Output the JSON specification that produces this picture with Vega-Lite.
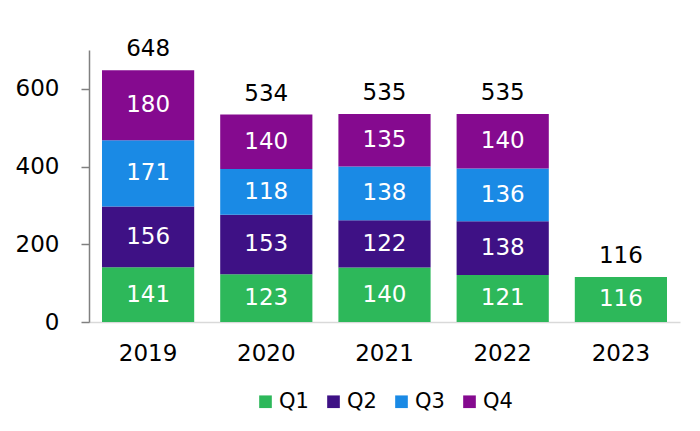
{
  "$schema": "https://vega.github.io/schema/vega-lite/v6.json",
  "width": 591,
  "height": 272,
  "autosize": "none",
  "padding": {"left": 89, "top": 50, "right": 20, "bottom": 109},
  "background": "white",
  "config": {
    "view": {"stroke": null},
    "font": "DejaVu Sans",
    "axis": {"labelFont": "DejaVu Sans", "labelColor": "black", "grid": false, "title": null}
  },
  "data": {
    "values": [
      {"year": "2019", "quarter": "Q1", "value": 141},
      {"year": "2019", "quarter": "Q2", "value": 156},
      {"year": "2019", "quarter": "Q3", "value": 171},
      {"year": "2019", "quarter": "Q4", "value": 180},
      {"year": "2020", "quarter": "Q1", "value": 123},
      {"year": "2020", "quarter": "Q2", "value": 153},
      {"year": "2020", "quarter": "Q3", "value": 118},
      {"year": "2020", "quarter": "Q4", "value": 140},
      {"year": "2021", "quarter": "Q1", "value": 140},
      {"year": "2021", "quarter": "Q2", "value": 122},
      {"year": "2021", "quarter": "Q3", "value": 138},
      {"year": "2021", "quarter": "Q4", "value": 135},
      {"year": "2022", "quarter": "Q1", "value": 121},
      {"year": "2022", "quarter": "Q2", "value": 138},
      {"year": "2022", "quarter": "Q3", "value": 136},
      {"year": "2022", "quarter": "Q4", "value": 140},
      {"year": "2023", "quarter": "Q1", "value": 116}
    ]
  },
  "encoding": {
    "x": {
      "field": "year", "type": "nominal",
      "scale": {"paddingInner": 0.22, "paddingOuter": 0.11},
      "axis": {"labelAngle": 0, "labelFontSize": 23, "labelPadding": 20, "ticks": false, "domainColor": "#d9d9d9", "domainWidth": 1.5}
    }
  },
  "layer": [
    {
      "mark": {"type": "bar"},
      "encoding": {
        "y": {
          "field": "value", "type": "quantitative", "stack": "zero",
          "scale": {"domain": [0, 700]},
          "axis": {"values": [0, 200, 400, 600], "labelFontSize": 23, "labelPadding": 22, "tickSize": 8, "tickColor": "#808080", "domainColor": "#808080", "domainWidth": 1.5, "tickWidth": 1.5}
        },
        "color": {
          "field": "quarter", "type": "nominal",
          "scale": {"domain": ["Q1", "Q2", "Q3", "Q4"], "range": ["#2db85a", "#3e1185", "#1a8ae5", "#850a8f"]},
          "legend": {
            "title": null, "orient": "none", "direction": "horizontal",
            "legendX": 166, "legendY": 341, "padding": 0,
            "symbolType": "square", "symbolSize": 160, "symbolStrokeWidth": 0,
            "labelFontSize": 21, "labelFont": "DejaVu Sans", "labelColor": "black",
            "columnPadding": 14, "labelOffset": 3, "gridAlign": "all"
          }
        },
        "order": {"field": "quarter", "sort": "ascending"}
      }
    },
    {
      "mark": {"type": "text", "color": "white", "fontSize": 23, "baseline": "middle"},
      "encoding": {
        "y": {"field": "value", "type": "quantitative", "stack": "zero", "bandPosition": 0.5},
        "text": {"field": "value", "type": "quantitative"},
        "order": {"field": "quarter", "sort": "ascending"},
        "detail": {"field": "quarter"}
      }
    },
    {
      "transform": [{"aggregate": [{"op": "sum", "field": "value", "as": "total"}], "groupby": ["year"]}],
      "mark": {"type": "text", "color": "black", "fontSize": 23, "baseline": "alphabetic", "dy": -14},
      "encoding": {
        "y": {"field": "total", "type": "quantitative"},
        "text": {"field": "total", "type": "quantitative"}
      }
    }
  ]
}
